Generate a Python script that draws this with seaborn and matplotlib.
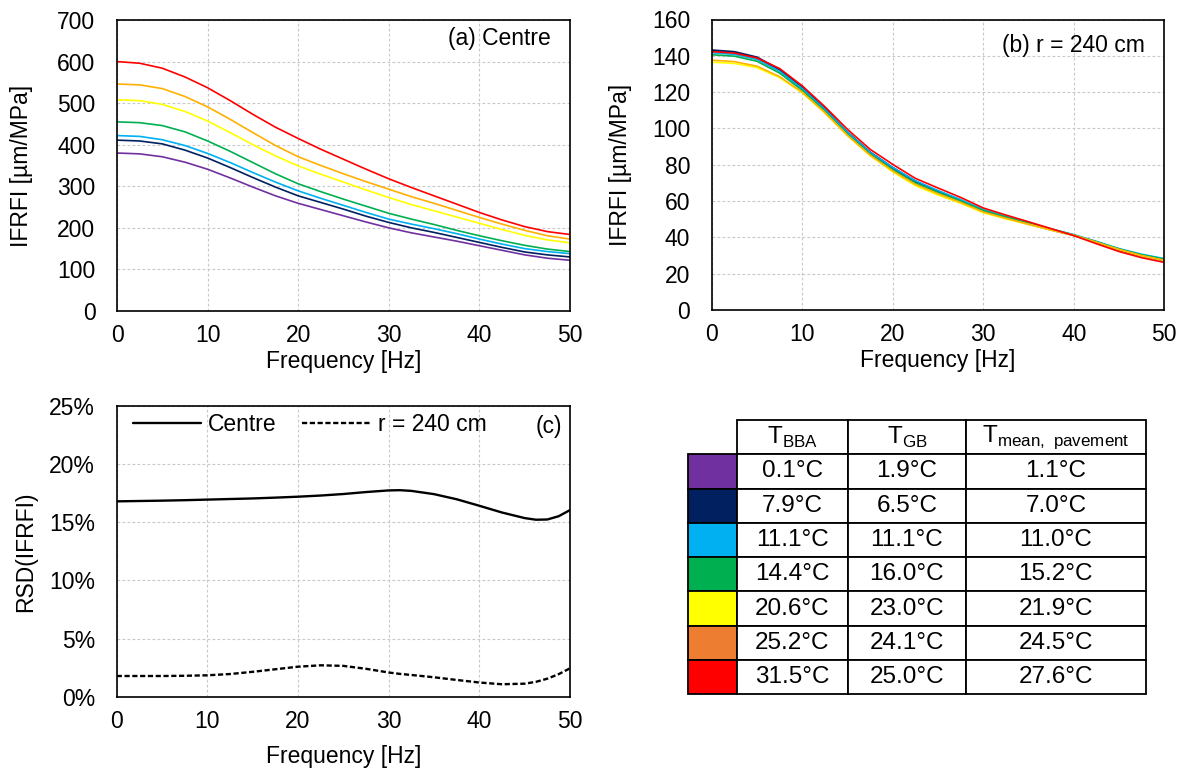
"""
IFRFI vs frequency for seven pavement temperatures, plus RSD panel and legend table.
"""

import matplotlib
matplotlib.use('Agg')
import matplotlib.pyplot as plt
import seaborn as sns
import pandas as pd
from matplotlib.ticker import PercentFormatter, MultipleLocator

sns.set_style('white')
plt.rcParams['font.family'] = ['Liberation Sans', 'DejaVu Sans']
plt.rcParams['mathtext.fontset'] = 'custom'
plt.rcParams['mathtext.rm'] = 'Liberation Sans'
for key in ['text.color', 'axes.labelcolor', 'xtick.color', 'ytick.color']:
    plt.rcParams[key] = 'black'

# frequency points [Hz]
freq = [0, 2.5, 5, 7.5, 10, 12.5, 15, 17.5, 20, 22.5, 25,
        27.5, 30, 32.5, 35, 37.5, 40, 42.5, 45, 47.5, 50]

series = ['purple', 'navy', 'cyan', 'green', 'yellow', 'orange', 'red']
line_colors = ['#7030A0', '#002060', '#00B0F0', '#00B050', '#FFFF00', '#FFB000', '#FF0000']
table_colors = ['#7030A0', '#002060', '#00B0F0', '#00B050', '#FFFF00', '#ED7D31', '#FF0000']

# (a) Centre
a_purple = [380, 378, 371, 358, 341, 320, 298, 277, 259, 244, 229, 214, 200, 188, 178, 168, 157, 146, 135, 127, 122]
a_navy = [411, 409, 402, 387, 368, 345, 321, 298, 277, 261, 245, 228, 213, 200, 189, 177, 165, 153, 142, 135, 130]
a_cyan = [422, 420, 412, 398, 379, 357, 333, 310, 289, 271, 254, 237, 221, 209, 198, 186, 173, 161, 150, 143, 138]
a_green = [455, 453, 446, 431, 409, 384, 357, 330, 306, 287, 269, 252, 235, 221, 208, 194, 181, 169, 158, 149, 143]
a_yellow = [508, 506, 497, 480, 457, 429, 400, 373, 349, 329, 310, 291, 273, 256, 241, 226, 211, 196, 182, 171, 164]
a_orange = [546, 544, 535, 516, 491, 461, 429, 398, 371, 350, 330, 311, 293, 275, 259, 242, 225, 209, 194, 181, 173]
a_red = [600, 596, 584, 563, 537, 506, 473, 442, 415, 389, 365, 341, 318, 297, 277, 257, 237, 219, 203, 191, 184]

# (b) r = 240 cm
b_purple = [142.8, 141.8, 138.8, 132.0, 122.0, 110.5, 97.5, 86.5, 78.0, 70.5, 65.0, 60.0, 54.8, 50.8, 47.2, 44.0, 41.0, 37.2, 33.2, 30.0, 27.5]
b_navy = [143.2, 142.3, 139.3, 132.5, 122.5, 111.0, 98.0, 87.0, 78.5, 71.0, 65.5, 60.5, 55.0, 51.0, 47.5, 44.3, 41.2, 37.2, 33.0, 29.8, 27.2]
b_cyan = [141.7, 140.8, 138.0, 131.5, 122.0, 110.5, 97.8, 86.8, 78.5, 71.2, 65.8, 60.8, 55.3, 51.5, 48.0, 44.7, 41.5, 37.8, 33.8, 30.7, 28.3]
b_green = [140.6, 139.8, 137.0, 130.5, 121.0, 109.5, 96.8, 85.8, 77.3, 70.0, 64.8, 60.0, 54.8, 51.2, 47.8, 44.5, 41.3, 37.6, 33.6, 30.4, 28.0]
b_yellow = [136.5, 135.8, 133.5, 128.0, 119.6, 108.5, 96.0, 85.0, 76.1, 68.5, 63.3, 58.8, 53.6, 50.2, 47.1, 44.0, 41.1, 37.2, 33.2, 29.8, 27.3]
b_orange = [137.6, 136.8, 134.3, 128.5, 120.0, 108.8, 96.2, 85.3, 76.6, 69.2, 64.0, 59.3, 54.0, 50.5, 47.3, 44.2, 41.2, 37.3, 33.3, 30.0, 27.4]
b_red = [142.3, 141.5, 138.8, 133.0, 123.5, 112.0, 99.5, 88.5, 80.2, 72.5, 67.2, 62.0, 56.2, 52.3, 48.6, 44.8, 41.0, 36.5, 32.2, 28.8, 26.2]

# (c) RSD [%]
rsd_freq = [0, 2.5, 5, 7.5, 10, 12.5, 15, 17.5, 20, 22.5, 25, 27.5, 30, 31.25, 32.5, 35,
            37.5, 40, 42.5, 45, 46.25, 47.5, 48.75, 50]
rsd_centre = [16.8, 16.83, 16.86, 16.9, 16.95, 17.0, 17.05, 17.12, 17.2, 17.3, 17.43, 17.6, 17.74, 17.76,
              17.7, 17.42, 16.98, 16.42, 15.84, 15.36, 15.22, 15.24, 15.52, 16.05]
rsd_r240 = [1.78, 1.78, 1.78, 1.8, 1.84, 1.95, 2.14, 2.36, 2.58, 2.7, 2.65, 2.4, 2.08, 1.96,
            1.87, 1.67, 1.44, 1.22, 1.07, 1.12, 1.28, 1.55, 1.94, 2.44]

# table
t_bba = ['0.1°C', '7.9°C', '11.1°C', '14.4°C', '20.6°C', '25.2°C', '31.5°C']
t_gb = ['1.9°C', '6.5°C', '11.1°C', '16.0°C', '23.0°C', '24.1°C', '25.0°C']
t_mean = ['1.1°C', '7.0°C', '11.0°C', '15.2°C', '21.9°C', '24.5°C', '27.6°C']
headers = ['', r'T$_{\mathrm{BBA}}$', r'T$_{\mathrm{GB}}$', r'T$_{\mathrm{mean,\ pavement}}$']

FS = 16.5
W, H = 1184, 778


def long_frame(curves):
    rows = []
    for name, vals in zip(series, curves):
        for f, v in zip(freq, vals):
            rows.append({'freq': f, 'value': v, 'series': name})
    return pd.DataFrame(rows)


def style_axes(ax, ymax, ystep):
    ax.set_xlim(0, 50)
    ax.set_ylim(0, ymax)
    ax.xaxis.set_major_locator(MultipleLocator(10))
    ax.yaxis.set_major_locator(MultipleLocator(ystep))
    ax.grid(True, color='#c8c8c8', linestyle=(0, (2.5, 2)), linewidth=0.8)
    ax.set_axisbelow(True)
    ax.tick_params(axis='both', length=0, labelsize=FS)
    ax.tick_params(axis='y', pad=15.5)
    ax.tick_params(axis='x', pad=9.5)
    for sp in ax.spines.values():
        sp.set_color('black')
        sp.set_linewidth(1.2)


def px_axes(left, top, right, bottom):
    return fig.add_axes([left / W, 1 - bottom / H, (right - left) / W, (bottom - top) / H])


fig = plt.figure(figsize=(11.84, 7.78), dpi=100)
palette = dict(zip(series, line_colors))

# (a)
ax_a = px_axes(117, 20, 570, 311)
sns.lineplot(data=long_frame([a_purple, a_navy, a_cyan, a_green, a_yellow, a_orange, a_red]),
             x='freq', y='value', hue='series', palette=palette, linewidth=1.2,
             legend=False, ax=ax_a)
style_axes(ax_a, 700, 100)
ax_a.set_xlabel('Frequency [Hz]', fontsize=FS)
ax_a.set_ylabel('IFRFI [µm/MPa]', fontsize=FS)
ax_a.xaxis.set_label_coords(0.5, -0.135)
ax_a.yaxis.set_label_coords(-0.185, 0.5)
ax_a.text(0.957, 0.935, '(a) Centre', transform=ax_a.transAxes, ha='right', va='center', fontsize=FS)

# (b)
ax_b = px_axes(711.7, 19.5, 1164.3, 310)
sns.lineplot(data=long_frame([b_purple, b_navy, b_cyan, b_green, b_yellow, b_orange, b_red]),
             x='freq', y='value', hue='series', palette=palette, linewidth=1.2,
             legend=False, ax=ax_b)
style_axes(ax_b, 160, 20)
ax_b.set_xlabel('Frequency [Hz]', fontsize=FS)
ax_b.set_ylabel('IFRFI [µm/MPa]', fontsize=FS)
ax_b.xaxis.set_label_coords(0.5, -0.135)
ax_b.yaxis.set_label_coords(-0.176, 0.5)
ax_b.text(0.957, 0.912, '(b) r = 240 cm', transform=ax_b.transAxes, ha='right', va='center', fontsize=FS)

# (c)
ax_c = px_axes(116.7, 406, 570, 696.7)
rsd = pd.DataFrame({'freq': rsd_freq * 2,
                    'value': rsd_centre + rsd_r240,
                    'series': ['Centre'] * len(rsd_freq) + ['r = 240 cm'] * len(rsd_freq)})
sns.lineplot(data=rsd, x='freq', y='value', style='series', color='black', linewidth=1.7,
             dashes={'Centre': '', 'r = 240 cm': (2.2, 1.1)}, ax=ax_c)
style_axes(ax_c, 25, 5)
ax_c.yaxis.set_major_formatter(PercentFormatter(100, decimals=0))
ax_c.set_xlabel('Frequency [Hz]', fontsize=FS)
ax_c.set_ylabel('RSD(IFRFI)', fontsize=FS)
ax_c.xaxis.set_label_coords(0.5, -0.165)
ax_c.yaxis.set_label_coords(-0.176, 0.5)
ax_c.legend(loc='upper left', bbox_to_anchor=(0.035, 0.975), ncol=2, frameon=False,
            fontsize=FS, handlelength=3.0, handletextpad=0.3, columnspacing=1.1,
            borderaxespad=0, borderpad=0)
ax_c.text(0.982, 0.929, '(c)', transform=ax_c.transAxes, ha='right', va='center', fontsize=FS)

# table
ax_t = px_axes(688.3, 420, 1145.7, 694.3)
ax_t.axis('off')
cell_text = [headers] + [['', a, b, c] for a, b, c in zip(t_bba, t_gb, t_mean)]
cell_colours = [['white'] * 4] + [[c, 'white', 'white', 'white'] for c in table_colors]
widths = [48.4, 111.0, 118.3, 179.7]
tbl = ax_t.table(cellText=cell_text, cellColours=cell_colours,
                 colWidths=[w / sum(widths) for w in widths],
                 cellLoc='center', bbox=[0, 0, 1, 1])
tbl.auto_set_font_size(False)
tbl.set_fontsize(17.5)
for (r, c), cell in tbl.get_celld().items():
    cell.set_edgecolor('black')
    cell.set_linewidth(1.3)
    if r == 0 and c == 0:
        cell.visible_edges = 'open'

fig.savefig('out.png', dpi=100)
